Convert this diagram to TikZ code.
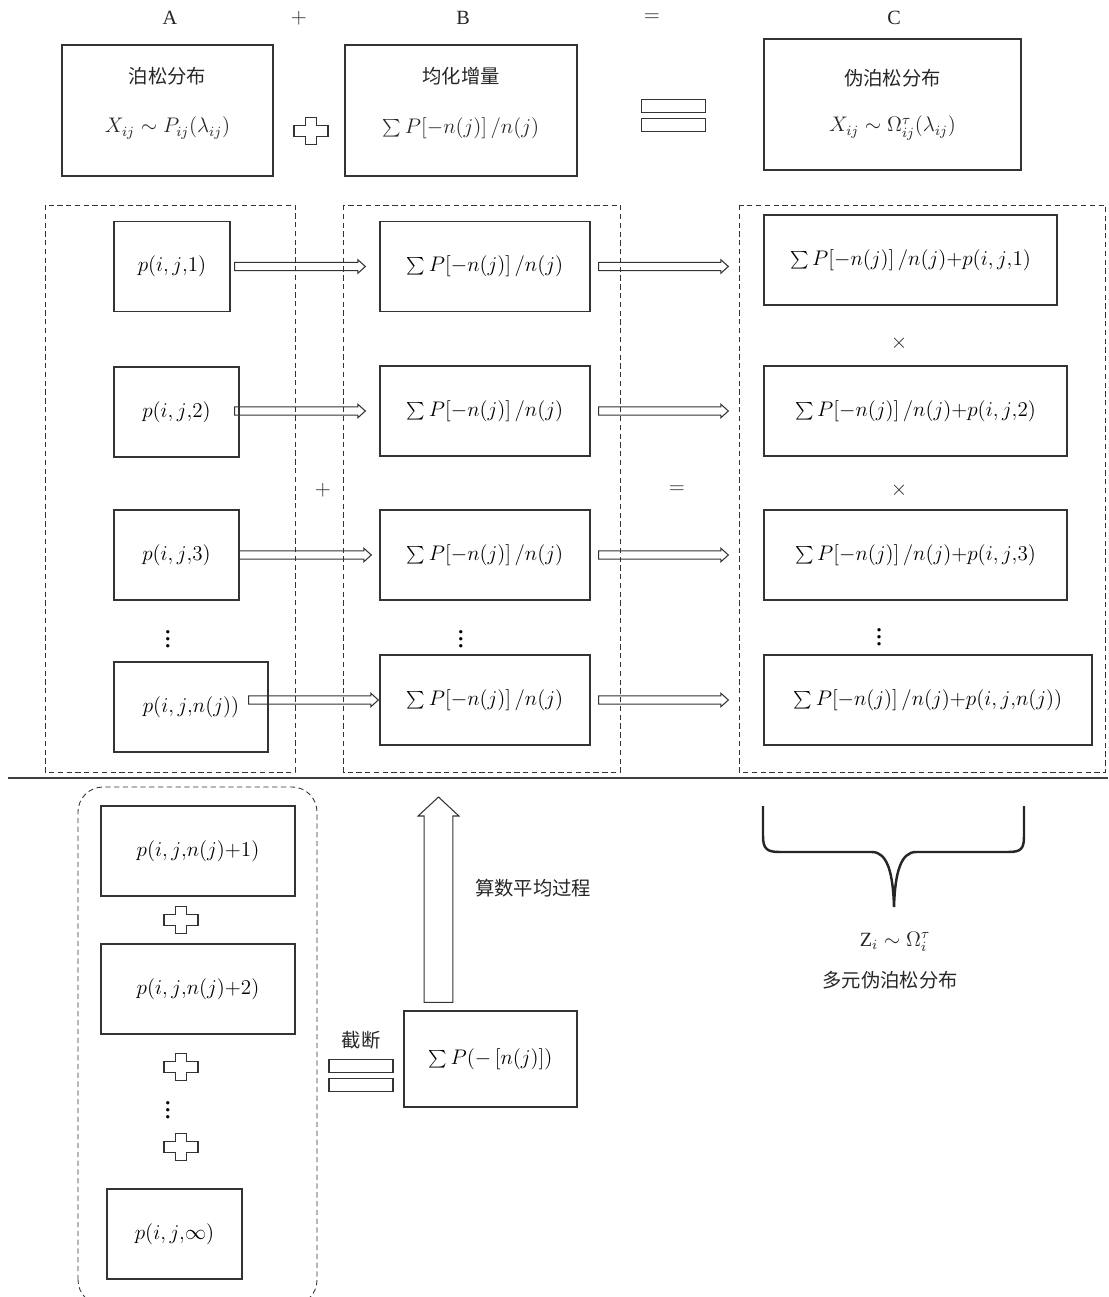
\documentclass[tikz,border=0pt]{standalone}
\usepackage{fontspec}
\setmainfont{Liberation Serif}
\newfontfamily\cjk{Noto Sans CJK SC}
\usetikzlibrary{positioning, calc}

% hollow block arrow between two points (left to right)
\newcommand{\hollowarrow}[2]{%
  \draw[harrow] let \p1=(#1), \p2=(#2) in
    (\x1,\y1+2.3pt) -- (\x2-4.2pt,\y1+2.3pt) -- (\x2-4.2pt,\y1+3.8pt)
    -- (\x2,\y1) -- (\x2-4.2pt,\y1-3.8pt) -- (\x2-4.2pt,\y1-2.3pt)
    -- (\x1,\y1-2.3pt) -- cycle;}

\begin{document}
\begin{tikzpicture}[
    x=0.02cm, y=-0.02cm,
    box/.style={
        draw=black!80,
        line width=0.8pt,
        inner sep=0pt,
        minimum height=1.8cm,
        font=\fontsize{11.5}{14}\selectfont
    },
    group/.style={draw=black!80, line width=0.5pt, dash pattern=on 3pt off 2pt},
    zh/.style={font=\cjk\fontsize{11}{13}\selectfont, text=black!85},
    sym/.style={font=\fontsize{11.5}{14}\selectfont, text=black!85},
    dots/.style={font=\fontsize{16}{18}\selectfont, inner sep=0pt},
    harrow/.style={draw=black!80, line width=0.6pt},
    pics/hplus/.style={code={
        \draw[line width=0.8pt, draw=black!80]
        (-17,-5.5) -- (-5.5,-5.5) -- (-5.5,-13.5) -- (5.5,-13.5) -- (5.5,-5.5)
        -- (17,-5.5) -- (17,5.5) -- (5.5,5.5) -- (5.5,13.5) -- (-5.5,13.5)
        -- (-5.5,5.5) -- (-17,5.5) -- cycle;}},
    pics/hequal/.style={code={
        \draw[line width=0.8pt, draw=black!80]
        (-32,-16) rectangle (32,-3) (-32,3) rectangle (32,16);}}
]
\useasboundingbox (0,0) rectangle (1108,1297);

% HEADER
\node[sym] (labA) at (170,18) {A};
\node[sym] (labplus) at (299,18) {$+$};
\node[sym] (labB) at (463,18) {B};
\node[sym] (labeq) at (652,18) {$=$};
\node[sym] (labC) at (894,18) {C};

% TOP BOXES
\node[box, minimum width=4.22cm, minimum height=2.62cm] (boxA) at (167.5,110.5) {};
\node[zh] (tA) at (167.5,76) {泊松分布};
\node[sym] (fA) at (167.5,128) {$X_{ij}\sim P_{ij}\mathopen{}\left(\lambda_{ij}\right)$};

\pic at (311,131) {hplus};

\node[box, minimum width=4.64cm, minimum height=2.62cm] (boxB) at (461,110.5) {};
\node[zh] (tB) at (461,76) {均化增量};
\node[sym] (fB) at (461,128) {$\sum P\mathopen{}\left[-n(j)\right]/n(j)$};

\pic at (673.5,115.5) {hequal};

\node[box, minimum width=5.14cm, minimum height=2.62cm] (boxC) at (892.5,104.5) {};
\node[zh] (tC) at (892.5,78) {伪泊松分布};
\node[sym] (fC) at (892.5,128) {$X_{ij}\sim\Omega^{\tau}_{ij}\mathopen{}\left(\lambda_{ij}\right)$};

% GROUPS
\draw[group] (45,205) rectangle (295,772);
\draw[group] (343.5,205) rectangle (620.5,772);
\draw[group] (739,205) rectangle (1105.5,772);

% COLUMN A
\node[box, minimum width=2.32cm] (l1) at (172,266.5) {$p\mathopen{}\left(i,j{,}1\right)$};
\node[box, minimum width=2.5cm] (l2) at (176.5,412) {$p\mathopen{}\left(i,j{,}2\right)$};
\node[box, minimum width=2.5cm] (l3) at (176.5,555) {$p\mathopen{}\left(i,j{,}3\right)$};
\node[box, minimum width=3.08cm] (l4) at (191,707) {$p\mathopen{}\left(i,j{,}n(j)\right)$};
\node[dots] (dotsA) at (168,634) {$\vdots$};

% COLUMN B
\node[box, minimum width=4.2cm] (m1) at (485,266.5) {$\sum P\mathopen{}\left[-n(j)\right]/n(j)$};
\node[box, minimum width=4.2cm] (m2) at (485,411) {$\sum P\mathopen{}\left[-n(j)\right]/n(j)$};
\node[box, minimum width=4.2cm] (m3) at (485,555) {$\sum P\mathopen{}\left[-n(j)\right]/n(j)$};
\node[box, minimum width=4.2cm] (m4) at (485,700) {$\sum P\mathopen{}\left[-n(j)\right]/n(j)$};
\node[dots] (dotsB) at (461,634) {$\vdots$};

% COLUMN C
\node[box, minimum width=5.86cm] (r1) at (910.5,260)
{$\sum P\mathopen{}\left[-n(j)\right]/n(j){+}p(i,j{,}1)$};
\node[box, minimum width=6.06cm] (r2) at (915.5,411)
{$\sum P\mathopen{}\left[-n(j)\right]/n(j){+}p(i,j{,}2)$};
\node[box, minimum width=6.06cm] (r3) at (915.5,555)
{$\sum P\mathopen{}\left[-n(j)\right]/n(j){+}p(i,j{,}3)$};
\node[box, minimum width=6.56cm] (r4) at (928,700)
{$\sum P\mathopen{}\left[-n(j)\right]/n(j){+}p\mathopen{}\left(i,j{,}n(j)\right)$};
\node[dots] (dotsC) at (879,632) {$\vdots$};
\node[sym] (times1) at (899,343) {$\times$};
\node[sym] (times2) at (899,490) {$\times$};

\node[sym] (midplus) at (323,490) {$+$};
\node[sym] (mideq) at (677,490) {$=$};

% ARROWS
\hollowarrow{[xshift=0.08cm]l1.east |- m1.west}{[xshift=-0.28cm]m1.west}
\hollowarrow{[xshift=-0.1cm]l2.east |- m2.west}{[xshift=-0.28cm]m2.west}
\hollowarrow{[xshift=-0.02cm]l3.east |- m3.west}{[xshift=-0.16cm]m3.west}
\hollowarrow{[xshift=-0.4cm]l4.east |- m4.west}{[xshift=-0.02cm]m4.west}

\hollowarrow{[xshift=0.16cm]m1.east}{[xshift=-0.7cm]r1.west |- m1.east}
\hollowarrow{[xshift=0.16cm]m2.east}{[xshift=-0.7cm]r2.west |- m2.east}
\hollowarrow{[xshift=0.16cm]m3.east}{[xshift=-0.7cm]r3.west |- m3.east}
\hollowarrow{[xshift=0.16cm]m4.east}{[xshift=-0.7cm]r4.west |- m4.east}

% SEPARATOR
\draw[line width=0.8pt, draw=black!75] (8,778) -- (1108,778);

% TAIL SUM
\draw[group, rounded corners=0.5cm] (78,1305) rectangle (317,787);
\node[box, minimum width=3.88cm] (b1) at (198,851) {$p\mathopen{}\left(i,j{,}n(j){+}1\right)$};
\pic at (181,920) {hplus};
\node[box, minimum width=3.88cm] (b2) at (198,989) {$p\mathopen{}\left(i,j{,}n(j){+}2\right)$};
\pic at (181,1067) {hplus};
\node[dots] (dotsT) at (168,1105) {$\vdots$};
\pic at (181,1147) {hplus};
\node[box, minimum width=2.7cm] (binf) at (174.5,1234) {$p\mathopen{}\left(i,j{,}\infty\right)$};

% TRUNCATION
\node[zh] (cut) at (361,1040) {截断};
\pic at (361,1075.5) {hequal};
\node[box, minimum width=3.46cm, minimum height=1.92cm] (bsum) at (490.5,1059)
{$\sum P\mathopen{}\left(-\left[n(j)\right]\right)$};

% AVERAGE ARROW
\coordinate (avgtip) at (438.5,797);
\draw[harrow] let \p1=([xshift=-1.04cm,yshift=0.16cm]bsum.north), \p2=(avgtip) in
    (\x2-8.2pt,\y1) -- (\x2-8.2pt,\y2-10.8pt) -- (\x2-11.6pt,\y2-10.8pt)
    -- (\x2,\y2) -- (\x2+11.6pt,\y2-10.8pt) -- (\x2+8.2pt,\y2-10.8pt)
    -- (\x2+8.2pt,\y1) -- cycle;
\node[zh] (avg) at (533,888) {算数平均过程};

% BRACE
\draw[line width=1.4pt, draw=black!85]
    (763,806) -- (763,836) .. controls (763,849) and (767,852) .. (780,852)
    -- (872,852) .. controls (887,852) and (893,872) .. (894,907)
    .. controls (895,872) and (901,852) .. (916,852)
    -- (1008,852) .. controls (1021,852) and (1024,849) .. (1024,836)
    -- (1024,806);
\node[sym] (zlab) at (895,942) {$\mathrm{Z}_i\sim\Omega_i^{\tau}$};
\node[zh] (zname) at (890,980) {多元伪泊松分布};

\end{tikzpicture}
\end{document}
